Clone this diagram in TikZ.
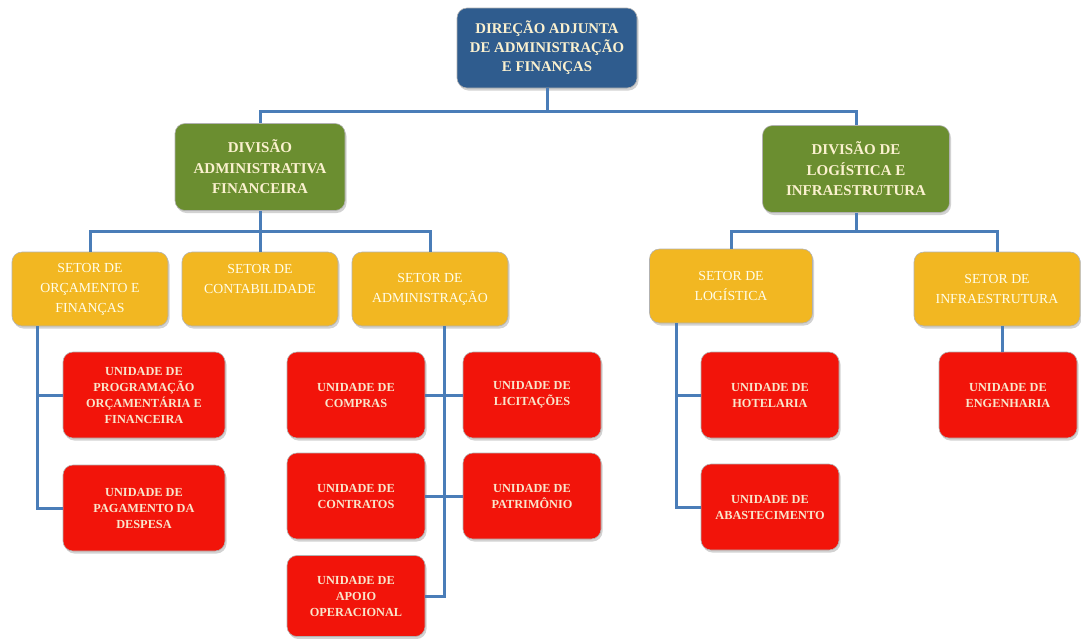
\documentclass[tikz,border=0pt]{standalone}
\usepackage{fontspec}
\setmainfont{Liberation Serif}
\usetikzlibrary{shadows}
\definecolor{dirblue}{HTML}{2F5C8E}
\definecolor{divgreen}{HTML}{6B8E30}
\definecolor{setgold}{HTML}{F2B722}
\definecolor{unired}{HTML}{F2140A}
\definecolor{linkblue}{HTML}{4A7DB8}
\definecolor{txtcream}{HTML}{FBF1CF}
\definecolor{txtpeach}{HTML}{F9E6CC}
\tikzset{
  box/.style={rounded corners=10pt,draw=black!30,line width=0.6pt,align=center,inner sep=2pt,
    drop shadow={shadow xshift=1.5pt,shadow yshift=-2.5pt,opacity=0.35}},
  boxdir/.style={box,fill=dirblue,text=txtcream,font=\bfseries\fontsize{14.8}{19}\selectfont,
    minimum width=180pt,minimum height=80pt},
  boxdiv/.style={box,fill=divgreen,text=txtcream,font=\bfseries\fontsize{15}{20.5}\selectfont,
    minimum height=87pt},
  boxset/.style={box,fill=setgold,text=white!92!yellow,font=\fontsize{13.8}{20}\selectfont,
    minimum width=156pt,minimum height=74pt},
  boxuni/.style={box,fill=unired,text=txtpeach,font=\bfseries\fontsize{12.3}{16}\selectfont,
    minimum width=138pt,minimum height=86pt},
  link/.style={draw=linkblue,line width=3pt}
}
\begin{document}
\begin{tikzpicture}[x=1pt,y=-1pt]
  \fill[white] (0,0) rectangle (1081,638);
  \useasboundingbox (0,0) rectangle (1081,638);
  % direcao e divisoes
  \node[boxdir] (dir) at (547,48) {DIREÇÃO ADJUNTA\\DE ADMINISTRAÇÃO\\E FINANÇAS};
  \node[boxdiv,minimum width=170pt] (divadm) at (260,167) {DIVISÃO\\ADMINISTRATIVA\\FINANCEIRA};
  \node[boxdiv,minimum width=187pt] (divlog) at (856,169) {DIVISÃO DE\\LOGÍSTICA E\\INFRAESTRUTURA};
  % setores
  \node[boxset] (setorc) at (90,289) {SETOR DE\\ORÇAMENTO E\\FINANÇAS};
  \node[boxset] (setcont) at (260,289) {SETOR DE\\CONTABILIDADE\\\mbox{}};
  \node[boxset] (setadm) at (430,289) {SETOR DE\\ADMINISTRAÇÃO};
  \node[boxset,minimum width=163pt] (setlog) at (731,286) {SETOR DE\\LOGÍSTICA};
  \node[boxset,minimum width=166pt] (setinf) at (997,289) {SETOR DE\\INFRAESTRUTURA};
  % unidades
  \node[boxuni,minimum width=162pt] (uprog) at (144,395) {UNIDADE DE\\PROGRAMAÇÃO\\ORÇAMENTÁRIA E\\FINANCEIRA};
  \node[boxuni,minimum width=162pt] (upag) at (144,508) {UNIDADE DE\\PAGAMENTO DA\\DESPESA};
  \node[boxuni] (ucomp) at (356,395) {UNIDADE DE\\COMPRAS};
  \node[boxuni] (ulic) at (532,395) {UNIDADE DE\\LICITAÇÕES};
  \node[boxuni] (ucont) at (356,496) {UNIDADE DE\\CONTRATOS};
  \node[boxuni] (upat) at (532,496) {UNIDADE DE\\PATRIMÔNIO};
  \node[boxuni,minimum height=81pt] (uapoio) at (356,596) {UNIDADE DE\\APOIO\\OPERACIONAL};
  \node[boxuni] (uhot) at (770,395) {UNIDADE DE\\HOTELARIA};
  \node[boxuni] (uabast) at (770,507) {UNIDADE DE\\ABASTECIMENTO};
  \node[boxuni] (ueng) at (1008,395) {UNIDADE DE\\ENGENHARIA};
  % ligacoes
  \coordinate (bus0) at (547,111);
  \coordinate (bus1) at (260,231);
  \coordinate (bus2) at (856,231);
  \coordinate (sp1) at (37,0);
  \coordinate (sp2) at (444,0);
  \coordinate (sp3) at (676,0);
  \coordinate (sp4) at (1002,0);
  \draw[link] (dir.south) -- (bus0);
  \draw[link] (divadm.north) |- (bus0) -| (divlog.north);
  \draw[link] (divadm.south) -- (bus1);
  \draw[link] (setorc.north) |- (bus1) -| (setadm.north);
  \draw[link] (setcont.north) -- (bus1);
  \draw[link] (divlog.south) -- (bus2);
  \draw[link] (setlog.north) |- (bus2) -| (setinf.north);
  \draw[link] (setorc.south -| sp1) |- (upag.west);
  \draw[link] (uprog.west) -- (uprog.west -| sp1);
  \draw[link] (setadm.south -| sp2) |- (uapoio.east);
  \draw[link] (ucomp.east) -- (ulic.west);
  \draw[link] (ucont.east) -- (upat.west);
  \draw[link] (setlog.south -| sp3) |- (uabast.west);
  \draw[link] (uhot.west) -- (uhot.west -| sp3);
  \draw[link] (setinf.south -| sp4) -- (ueng.north -| sp4);
\end{tikzpicture}
\end{document}
